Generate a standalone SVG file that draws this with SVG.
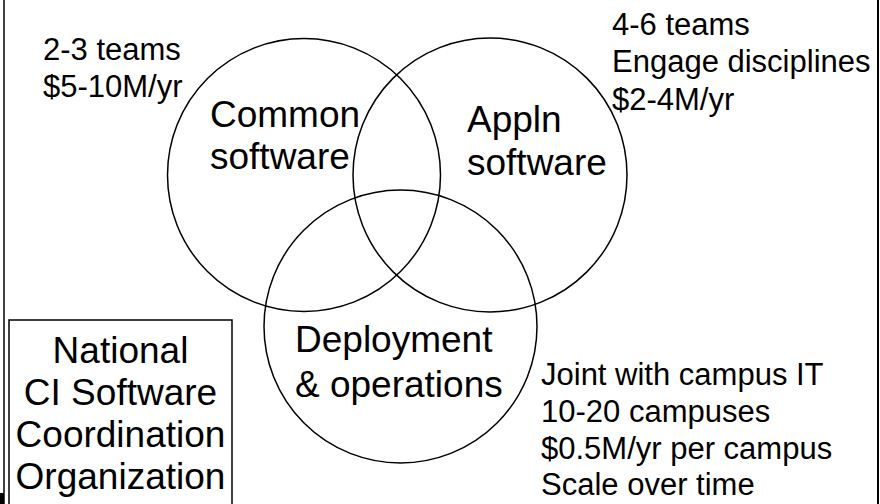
<svg xmlns="http://www.w3.org/2000/svg" width="880" height="504" viewBox="0 0 880 504">
<style>
.c{fill:none;stroke:#000;stroke-width:1.5}
.big{font-family:"Liberation Sans",Arial,sans-serif;font-size:37px;fill:#000}
.sm{font-family:"Liberation Sans",Arial,sans-serif;font-size:31px;fill:#000}
.mid{text-anchor:middle}
</style>
<rect width="880" height="504" fill="#fff"/>
<g id="frame">
<line x1="4" y1="0" x2="4" y2="504" stroke="#000" stroke-width="1.5"/>
<line x1="878" y1="0" x2="878" y2="504" stroke="#000" stroke-width="2"/>
<rect x="0" y="493" width="4" height="11" fill="#000"/>
</g>
<g id="common">
<circle class="c" cx="304" cy="175" r="136.5"/>
<text class="big" x="210" y="126.5">Common</text>
<text class="big" x="210" y="168.5">software</text>
</g>
<g id="appln">
<circle class="c" cx="490" cy="175" r="137"/>
<text class="big" x="467" y="132">Appln</text>
<text class="big" x="467" y="175">software</text>
</g>
<g id="deploy">
<circle class="c" cx="400.5" cy="326.5" r="136.5"/>
<text class="big" x="295" y="352">Deployment</text>
<text class="big" x="295" y="397">&amp; operations</text>
</g>
<g id="ncsco">
<path d="M9 504 V320 H232 V504" fill="none" stroke="#000" stroke-width="1.5"/>
<text class="big mid" x="120.5" y="363">National</text>
<text class="big mid" x="120.5" y="405">CI Software</text>
<text class="big mid" x="120.5" y="447">Coordination</text>
<text class="big mid" x="120.5" y="489">Organization</text>
</g>
<g id="notes-common">
<text class="sm" x="43" y="60">2-3 teams</text>
<text class="sm" x="43" y="97">$5-10M/yr</text>
</g>
<g id="notes-appln">
<text class="sm" x="612" y="34.5">4-6 teams</text>
<text class="sm" x="612" y="72">Engage disciplines</text>
<text class="sm" x="612" y="110">$2-4M/yr</text>
</g>
<g id="notes-deploy">
<text class="sm" x="541" y="385">Joint with campus IT</text>
<text class="sm" x="541" y="422">10-20 campuses</text>
<text class="sm" x="541" y="458.5">$0.5M/yr per campus</text>
<text class="sm" x="541" y="495">Scale over time</text>
</g>
<g id="connectors"/>
</svg>
